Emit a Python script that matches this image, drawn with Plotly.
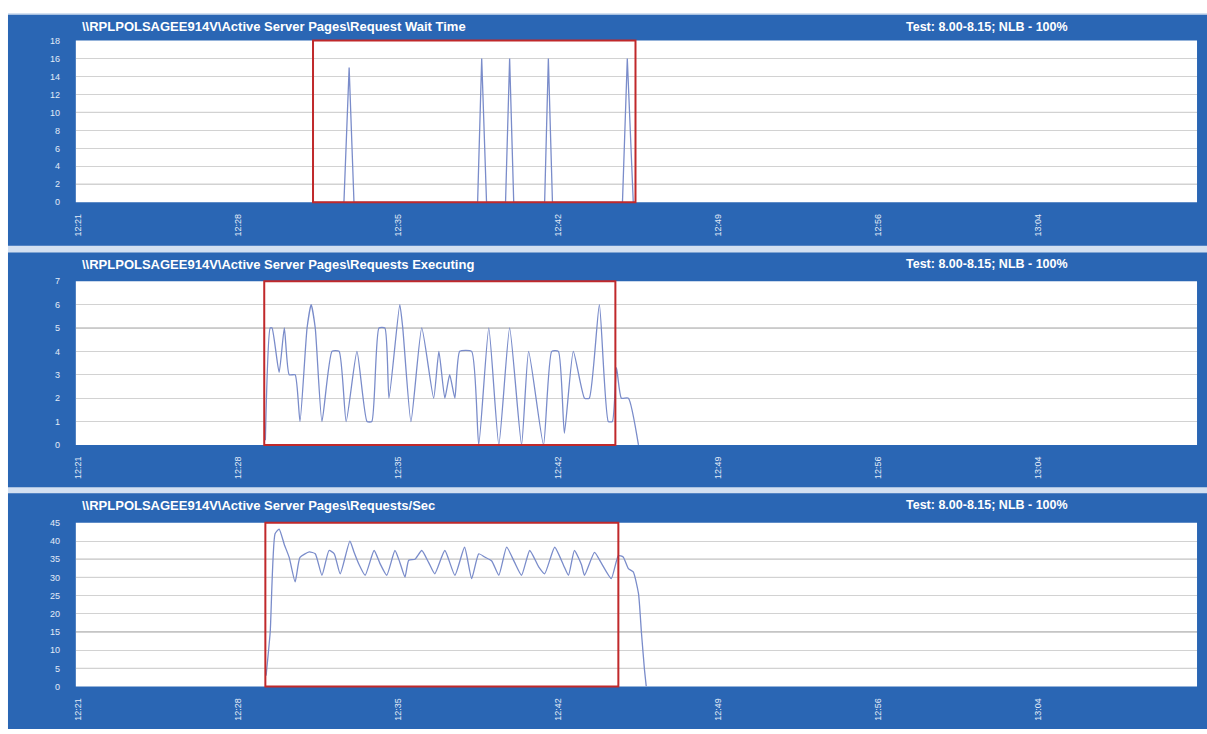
import plotly.graph_objects as go

# ---------------- data ----------------
# x-axis ticks (time of day)
tick_times = ["12:21:00", "12:28:10", "12:35:20", "12:42:30", "12:49:40", "12:56:50", "13:04:00"]
tick_labels = ["12:21", "12:28", "12:35", "12:42", "12:49", "12:56", "13:04"]
axis_start, axis_end = "12:20:55", "13:11:06"

# Request Wait Time
wait_times = ["12:31:35", "12:32:55", "12:33:09", "12:33:22", "12:38:54", "12:39:05", "12:39:18",
              "12:40:09", "12:40:20", "12:40:31", "12:41:54", "12:42:04", "12:42:15",
              "12:45:23", "12:45:36", "12:45:52", "12:45:58"]
wait_values = [0, 0, 15, 0, 0, 16, 0, 0, 16, 0, 0, 16, 0, 0, 16, 0, 0]

# Requests Executing
exec_times = ["12:29:24", "12:29:37", "12:29:42", "12:30:01", "12:30:15", "12:30:28", "12:30:44",
              "12:30:57", "12:31:16", "12:31:27", "12:31:38", "12:31:56", "12:32:23", "12:32:42",
              "12:33:01", "12:33:30", "12:33:57", "12:34:10", "12:34:29", "12:34:45", "12:34:56",
              "12:35:25", "12:35:33", "12:35:55", "12:36:24", "12:36:56", "12:37:10", "12:37:26",
              "12:37:39", "12:37:53", "12:38:06", "12:38:38", "12:38:57", "12:39:24", "12:39:51",
              "12:40:20", "12:40:52", "12:41:11", "12:41:51", "12:42:13", "12:42:31", "12:42:47",
              "12:43:11", "12:43:41", "12:43:54", "12:44:21", "12:44:45", "12:44:56", "12:45:07",
              "12:45:20", "12:45:39", "12:46:06"]
exec_values = [0.2, 5, 5, 3.1, 5, 3, 3,
               1, 5, 6, 5, 1, 4, 4,
               1, 4, 1, 1, 5, 5, 2,
               6, 5, 1, 5, 2, 4, 2,
               3, 2, 4, 4, 0, 5, 0,
               5, 0, 4, 0, 4, 4, 0.5,
               4, 2, 2, 6, 1, 1, 3.3,
               2, 2, 0]

# Requests/Sec
rps_times = ["12:29:26", "12:29:37", "12:29:50", "12:30:01", "12:30:15", "12:30:28", "12:30:44",
             "12:30:57", "12:31:22", "12:31:38", "12:31:56", "12:32:15", "12:32:29", "12:32:45",
             "12:33:11", "12:33:22", "12:33:35", "12:33:52", "12:34:16", "12:34:32", "12:34:50",
             "12:35:12", "12:35:25", "12:35:39", "12:35:49", "12:36:06", "12:36:24", "12:36:43",
             "12:36:59", "12:37:26", "12:37:53", "12:38:19", "12:38:38", "12:38:57", "12:39:13",
             "12:39:32", "12:39:51", "12:40:12", "12:40:33", "12:40:52", "12:41:14", "12:41:38",
             "12:41:54", "12:42:21", "12:42:45", "12:42:58", "12:43:14", "12:43:33", "12:43:41",
             "12:44:08", "12:44:26", "12:44:53", "12:45:12", "12:45:25", "12:45:39", "12:45:52",
             "12:46:06", "12:46:14", "12:46:22", "12:46:27"]
rps_values = [3, 15, 42, 43.3, 39, 35.5, 28.8,
              35.5, 37, 36.5, 30.6, 37.4, 36.5, 31,
              40, 37, 33.7, 30.6, 37.4, 33.8, 30.6,
              37.4, 34.2, 30.1, 34.7, 35, 37.4, 34,
              31, 37.4, 30.6, 38.3, 29.7, 36.5, 35.6,
              34.5, 30.6, 38.3, 34.2, 30.6, 37.4, 32.9,
              31, 38.3, 33.3, 30.6, 37.4, 33.5, 30.6,
              36.9, 34, 29.7, 36, 35.6, 32.4, 31.5,
              25.6, 14.8, 4.8, 0]

# ---------------- helpers ----------------
def secs(t):
    h, m, s = (int(p) for p in t.split(":"))
    return h * 3600 + m * 60 + s


W, H = 1207, 734
BLUE = "#2a66b4"
LINE = "#7a8cca"
RED = "#c0292b"
FONT = "Liberation Sans, Arial, sans-serif"
TICKFONT = dict(family=FONT, size=9, color="#e3ebf7")

panels = [
    dict(title=r"\\RPLPOLSAGEE914V\Active Server Pages\Request Wait Time",
         times=wait_times, values=wait_values, yrange=[0, 18], dtick=2,
         window=("12:31:32", "12:45:58"), dark=[2, 10],
         plot_px=(36, 200), frame_px=(10, 244), shape="linear"),
    dict(title=r"\\RPLPOLSAGEE914V\Active Server Pages\Requests Executing",
         times=exec_times, values=exec_values, yrange=[0, 7], dtick=1,
         window=("12:29:21", "12:45:04"), dark=[5],
         plot_px=(280, 446), frame_px=(251, 489), shape="spline"),
    dict(title=r"\\RPLPOLSAGEE914V\Active Server Pages\Requests/Sec",
         times=rps_times, values=rps_values, yrange=[0, 45], dtick=5,
         window=("12:29:24", "12:45:12"), dark=[5, 15, 30, 35],
         plot_px=(525, 691), frame_px=(495, 734), shape="spline"),
]
test_label = "Test: 8.00-8.15; NLB - 100%"

fig = go.Figure()
shapes = []
annotations = []

# pale backdrop showing between the panels
shapes.append(dict(type="rect", xref="paper", yref="paper", layer="below",
                   x0=5 / W, x1=1, y0=0, y1=1 - 8 / H,
                   fillcolor="#d3e0f1", line=dict(width=0)))

x_dom = [73 / W, 1197 / W]
tickvals = [secs(t) for t in tick_times]

for i, p in enumerate(panels, start=1):
    xa = "x" if i == 1 else f"x{i}"
    ya = "y" if i == 1 else f"y{i}"
    top, bottom = p["plot_px"]
    ftop, fbot = p["frame_px"]

    # blue panel frame with a white plotting area
    shapes.append(dict(type="rect", xref="paper", yref="paper", layer="below",
                       x0=5 / W, x1=1, y0=1 - fbot / H, y1=1 - ftop / H,
                       fillcolor=BLUE, line=dict(width=0)))
    shapes.append(dict(type="rect", xref="paper", yref="paper", layer="below",
                       x0=x_dom[0], x1=x_dom[1], y0=1 - bottom / H, y1=1 - top / H,
                       fillcolor="#ffffff", line=dict(width=0)))

    fig.add_trace(go.Scatter(
        x=[secs(t) for t in p["times"]], y=p["values"],
        xaxis=xa, yaxis=ya, mode="lines",
        line=dict(color=LINE, width=1.3, shape=p["shape"], smoothing=0.5),
        showlegend=False, hoverinfo="skip"))

    axis_x = dict(domain=x_dom, anchor=ya, range=[secs(axis_start), secs(axis_end)],
                  tickvals=tickvals, ticktext=tick_labels, tickangle=-90,
                  tickfont=TICKFONT, showgrid=False, zeroline=False, showline=False,
                  ticks="outside", ticklen=7, tickcolor=BLUE, fixedrange=True)
    axis_y = dict(domain=[1 - bottom / H, 1 - top / H], anchor=xa,
                  range=p["yrange"], dtick=p["dtick"], tick0=0,
                  tickfont=TICKFONT, showgrid=True, gridcolor="#d2d2d2", gridwidth=1,
                  zeroline=False, showline=False,
                  ticks="outside", ticklen=13, tickcolor=BLUE, fixedrange=True)
    fig.update_layout(**{("xaxis" if i == 1 else f"xaxis{i}"): axis_x,
                         ("yaxis" if i == 1 else f"yaxis{i}"): axis_y})

    # emphasised gridlines
    for v in p["dark"]:
        shapes.append(dict(type="line", xref=f"{xa} domain", yref=ya, layer="below",
                           x0=0, x1=1, y0=v, y1=v, line=dict(color="#8a8a8a", width=1)))

    # highlighted test window
    shapes.append(dict(type="rect", xref=xa, yref=f"{ya} domain", layer="above",
                       x0=secs(p["window"][0]), x1=secs(p["window"][1]), y0=0, y1=1,
                       fillcolor="rgba(0,0,0,0)", line=dict(color=RED, width=2)))

    # headings
    head_y = 1 - (ftop + 12) / H
    annotations.append(dict(xref="paper", yref="paper", x=77 / W, y=head_y,
                            xanchor="left", yanchor="middle", showarrow=False,
                            text=f"<b>{p['title']}</b>",
                            font=dict(family=FONT, size=13, color="#ffffff")))
    annotations.append(dict(xref="paper", yref="paper", x=1070 / W, y=head_y,
                            xanchor="right", yanchor="middle", showarrow=False,
                            text=f"<b>{test_label}</b>",
                            font=dict(family=FONT, size=12.5, color="#ffffff")))

fig.update_layout(
    width=W, height=H, margin=dict(l=0, r=0, t=0, b=0),
    paper_bgcolor="#ffffff", plot_bgcolor="#ffffff",
    shapes=shapes, annotations=annotations, showlegend=False,
)

fig.write_html("out.html")
